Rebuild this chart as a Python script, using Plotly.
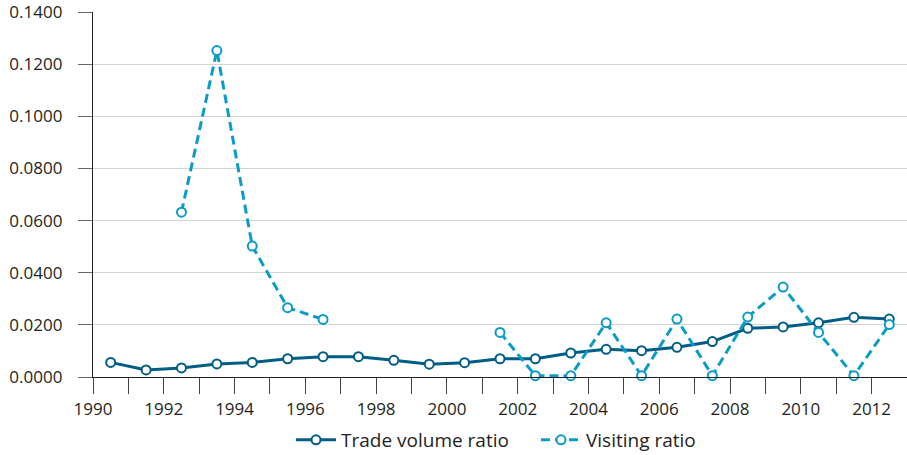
import plotly.graph_objects as go

years = [1990.5 + i for i in range(23)]  # 1990.5 .. 2012.5 (mid-year points)
trade_volume_ratio = [0.0056, 0.0027, 0.0035, 0.0050, 0.0056, 0.0070, 0.0078, 0.0078,
                      0.0064, 0.0049, 0.0055, 0.0070, 0.0070, 0.0092, 0.0106, 0.0101,
                      0.0114, 0.0136, 0.0187, 0.0192, 0.0208, 0.0229, 0.0222]
visiting_ratio = [None, None, 0.0632, 0.1252, 0.0502, 0.0266, 0.0221, None,
                  None, None, None, 0.0171, 0.0005, 0.0005, 0.0208, 0.0005,
                  0.0222, 0.0005, 0.0230, 0.0345, 0.0171, 0.0005, 0.0201]
x_tick_vals = list(range(1990, 2014))
x_tick_text = [str(y) if y % 2 == 0 and y <= 2012 else "" for y in x_tick_vals]
y_tick_vals = [0, 0.02, 0.04, 0.06, 0.08, 0.10, 0.12, 0.14]

FONT = "Open Sans"
TXT = "#231f20"

fig = go.Figure()
fig.add_trace(go.Scatter(
    x=years, y=trade_volume_ratio, name="Trade volume ratio", mode="lines+markers",
    line=dict(color="#005e86", width=3),
    marker=dict(symbol="circle", size=9, color="white", line=dict(color="#005e86", width=2)),
    cliponaxis=False,
))
fig.add_trace(go.Scatter(
    x=years, y=visiting_ratio, name="Visiting ratio", mode="lines+markers",
    connectgaps=False,
    line=dict(color="#0a9cc8", width=3, dash="9px,5px"),
    marker=dict(symbol="circle", size=9, color="white", line=dict(color="#0a9cc8", width=2)),
    cliponaxis=False,
))

fig.update_layout(
    width=907, height=455,
    margin=dict(l=93, r=0, t=12, b=78, autoexpand=False),
    paper_bgcolor="white", plot_bgcolor="white",
    font=dict(family=FONT, size=17, color=TXT),
    showlegend=True,
    legend=dict(orientation="h", x=(291 - 93) / 814, xanchor="left", y=-0.1726, yanchor="middle",
                font=dict(family=FONT, size=19, color=TXT), itemwidth=40,
                entrywidth=190, traceorder="normal"),
)
fig.update_xaxes(
    range=[1990, 2013], tickvals=x_tick_vals, ticktext=x_tick_text,
    showgrid=False, zeroline=False, automargin=False,
    showline=True, linecolor="#231f20", linewidth=1.3,
    ticks="outside", ticklen=16, tickcolor="#444444", tickwidth=1.3,
    tickfont=dict(family=FONT, size=17, color=TXT), ticklabeloverflow="allow",
)
fig.update_yaxes(
    range=[0, 0.14], tickvals=y_tick_vals, tickformat=".4f",
    showgrid=True, gridcolor="#d4d4d4", gridwidth=1, zeroline=False, automargin=False,
    showline=True, linecolor="#231f20", linewidth=1.3,
    ticks="outside", ticklen=14, tickcolor="#666666", tickwidth=1.3,
    tickfont=dict(family=FONT, size=17, color=TXT), ticklabeloverflow="allow",
    ticklabelstandoff=12,
)

fig.write_html("out.html", config={"displayModeBar": False},
               post_script="document.body.style.margin='0';document.body.style.overflow='hidden';")
